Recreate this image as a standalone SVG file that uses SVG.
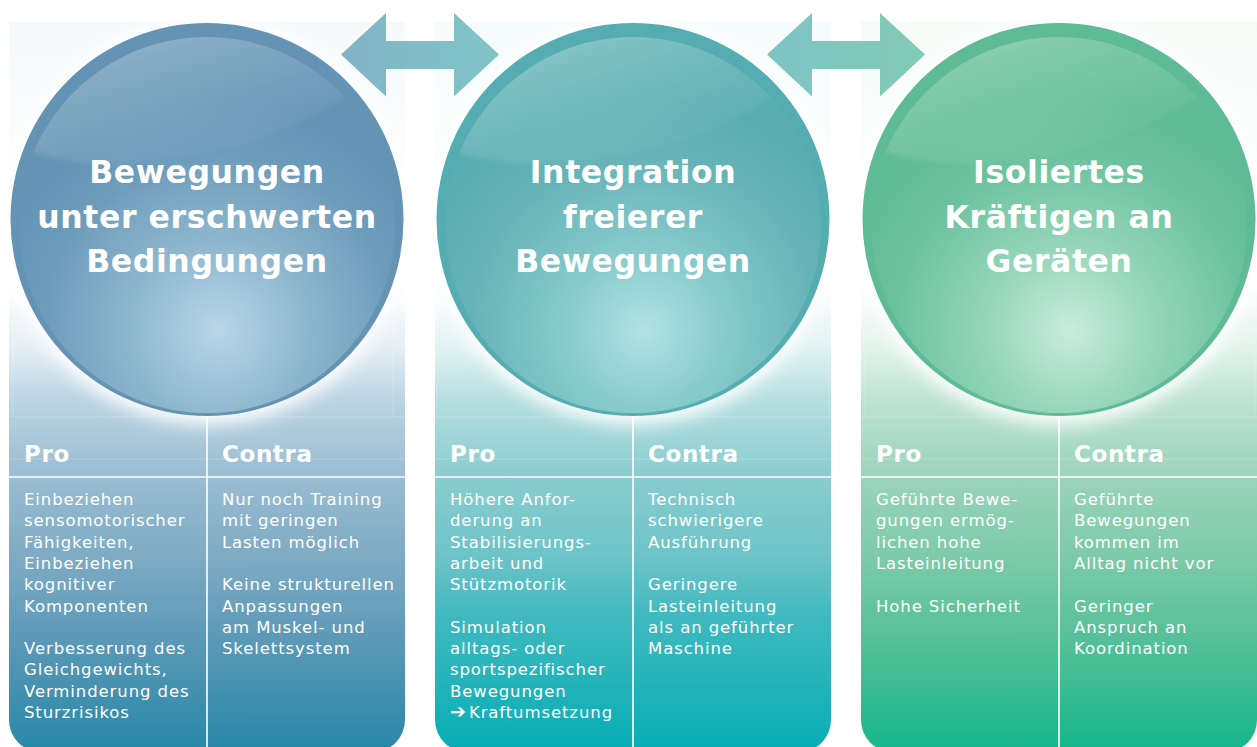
<svg xmlns="http://www.w3.org/2000/svg" width="1257" height="747" viewBox="0 0 1257 747">
  <defs>
    <style>
      .title { font-family: "DejaVu Sans", "Liberation Sans", sans-serif; font-weight: bold; font-size: 31.5px; letter-spacing: 0.6px; fill: #ffffff; text-anchor: middle; }
      .head { font-family: "DejaVu Sans", "Liberation Sans", sans-serif; font-weight: bold; font-size: 23px; letter-spacing: 0.6px; fill: #ffffff; }
      .body { font-family: "DejaVu Sans", "Liberation Sans", sans-serif; font-size: 16.5px; letter-spacing: 0.9px; fill: #ffffff; }
      .mark { font-size: 19px; font-weight: bold; letter-spacing: 0; }
      .rule { stroke: #ffffff; stroke-width: 1.6; fill: none; }
      .faint { stroke: #ffffff; stroke-opacity: 0.22; stroke-width: 1; fill: none; }
    </style>

    <!-- card backgrounds: white behind the sphere, deepening toward the bottom -->
    <linearGradient id="card-blue" gradientUnits="userSpaceOnUse" x1="0" y1="22" x2="0" y2="747">
      <stop offset="0" stop-color="#f6f9fb"/>
      <stop offset="0.36" stop-color="#ffffff"/>
      <stop offset="0.45" stop-color="#e4eef4"/>
      <stop offset="0.52" stop-color="#bcd4e3"/>
      <stop offset="0.62" stop-color="#9bbed2"/>
      <stop offset="0.74" stop-color="#7eaac3"/>
      <stop offset="0.85" stop-color="#5c99b7"/>
      <stop offset="1" stop-color="#2a88a8"/>
    </linearGradient>
    <linearGradient id="card-teal" gradientUnits="userSpaceOnUse" x1="0" y1="22" x2="0" y2="747">
      <stop offset="0" stop-color="#f6fbfb"/>
      <stop offset="0.36" stop-color="#ffffff"/>
      <stop offset="0.45" stop-color="#e1f2f2"/>
      <stop offset="0.52" stop-color="#b6dfe0"/>
      <stop offset="0.62" stop-color="#8ccdd0"/>
      <stop offset="0.74" stop-color="#6cc3c7"/>
      <stop offset="0.82" stop-color="#3fb9bf"/>
      <stop offset="1" stop-color="#08aeb5"/>
    </linearGradient>
    <linearGradient id="card-green" gradientUnits="userSpaceOnUse" x1="0" y1="22" x2="0" y2="747">
      <stop offset="0" stop-color="#f6fbf8"/>
      <stop offset="0.36" stop-color="#ffffff"/>
      <stop offset="0.45" stop-color="#e2f3eb"/>
      <stop offset="0.52" stop-color="#bee3d3"/>
      <stop offset="0.62" stop-color="#9dd4bd"/>
      <stop offset="0.74" stop-color="#7ccaa9"/>
      <stop offset="0.88" stop-color="#4bbd95"/>
      <stop offset="1" stop-color="#17b78b"/>
    </linearGradient>

    <!-- sphere bodies -->
    <radialGradient id="sphere-blue" gradientUnits="objectBoundingBox" cx="0.53" cy="0.78" r="0.62">
      <stop offset="0" stop-color="#b8d6e8"/>
      <stop offset="0.35" stop-color="#91b9d0"/>
      <stop offset="0.75" stop-color="#6d9cbb"/>
      <stop offset="1" stop-color="#6494b4"/>
    </radialGradient>
    <radialGradient id="sphere-teal" gradientUnits="objectBoundingBox" cx="0.53" cy="0.78" r="0.62">
      <stop offset="0" stop-color="#b2e2e2"/>
      <stop offset="0.35" stop-color="#86cacc"/>
      <stop offset="0.75" stop-color="#66b3b7"/>
      <stop offset="1" stop-color="#5aaeb2"/>
    </radialGradient>
    <radialGradient id="sphere-green" gradientUnits="objectBoundingBox" cx="0.53" cy="0.78" r="0.62">
      <stop offset="0" stop-color="#c9ecdc"/>
      <stop offset="0.35" stop-color="#96d6ba"/>
      <stop offset="0.75" stop-color="#6cc29e"/>
      <stop offset="1" stop-color="#60bc96"/>
    </radialGradient>

    <!-- glossy reflection across the top of each sphere -->
    <linearGradient id="gloss" x1="0.15" y1="0" x2="0.35" y2="1">
      <stop offset="0" stop-color="#ffffff" stop-opacity="0.55"/>
      <stop offset="0.45" stop-color="#ffffff" stop-opacity="0.22"/>
      <stop offset="1" stop-color="#ffffff" stop-opacity="0.04"/>
    </linearGradient>

    <linearGradient id="arrow-a" gradientUnits="userSpaceOnUse" x1="341" y1="0" x2="499" y2="0">
      <stop offset="0" stop-color="#82b3c6"/>
      <stop offset="1" stop-color="#7fc5c8"/>
    </linearGradient>
    <linearGradient id="arrow-b" gradientUnits="userSpaceOnUse" x1="767" y1="0" x2="925" y2="0">
      <stop offset="0" stop-color="#7ec4c5"/>
      <stop offset="1" stop-color="#82cab5"/>
    </linearGradient>

    <filter id="halo" x="-20%" y="-20%" width="140%" height="140%">
      <feGaussianBlur stdDeviation="9"/>
    </filter>
    <filter id="soft" x="-10%" y="-10%" width="120%" height="120%">
      <feGaussianBlur stdDeviation="2"/>
    </filter>

    <clipPath id="clip-1"><circle cx="207" cy="225" r="188"/></clipPath>
    <clipPath id="clip-2"><circle cx="633" cy="225" r="188"/></clipPath>
    <clipPath id="clip-3"><circle cx="1059" cy="225" r="188"/></clipPath>
  </defs>

  <rect width="1257" height="747" fill="#ffffff"/>

  <!-- column 1 -->
  <g id="node-bedingungen">
    <path d="M9 22 H405 V720 A32 32 0 0 1 373 752 H41 A32 32 0 0 1 9 720 Z" fill="url(#card-blue)"/>
    <g class="faint">
      <path d="M13 417 V225 A25 25 0 0 1 38 200 H368 A25 25 0 0 1 393 225 V417"/>
      <line x1="9" y1="417" x2="405" y2="417"/>
      <line x1="9" y1="459" x2="405" y2="459"/>
    </g>
    <circle cx="207" cy="222" r="202" fill="#ffffff" filter="url(#halo)"/>
    <circle cx="207" cy="219.5" r="196.5" fill="#6593b3"/>
    <circle cx="207" cy="225" r="188" fill="url(#sphere-blue)"/>
    <g clip-path="url(#clip-1)">
      <ellipse cx="192" cy="62" rx="212" ry="92" transform="rotate(-13 192 62)" fill="url(#gloss)" filter="url(#soft)"/>
    </g>
    <text class="title"><tspan x="207" y="183">Bewegungen</tspan><tspan x="207" y="228">unter erschwerten</tspan><tspan x="207" y="272">Bedingungen</tspan></text>
    <line class="rule" x1="207" y1="416" x2="207" y2="747"/>
    <line class="rule" x1="9" y1="477" x2="405" y2="477"/>
    <text class="head" x="24" y="462">Pro</text>
    <text class="head" x="222" y="462">Contra</text>
    <text class="body"><tspan x="24" y="505">Einbeziehen</tspan><tspan x="24" dy="21.3">sensomotorischer</tspan><tspan x="24" dy="21.3">Fähigkeiten,</tspan><tspan x="24" dy="21.3">Einbeziehen</tspan><tspan x="24" dy="21.3">kognitiver</tspan><tspan x="24" dy="21.3">Komponenten</tspan><tspan x="24" dy="42.6">Verbesserung des</tspan><tspan x="24" dy="21.3">Gleichgewichts,</tspan><tspan x="24" dy="21.3">Verminderung des</tspan><tspan x="24" dy="21.3">Sturzrisikos</tspan></text>
    <text class="body"><tspan x="222" y="505">Nur noch Training</tspan><tspan x="222" dy="21.3">mit geringen</tspan><tspan x="222" dy="21.3">Lasten möglich</tspan><tspan x="222" dy="42.6">Keine strukturellen</tspan><tspan x="222" dy="21.3">Anpassungen</tspan><tspan x="222" dy="21.3">am Muskel- und</tspan><tspan x="222" dy="21.3">Skelettsystem</tspan></text>
  </g>

  <!-- column 2 -->
  <g id="node-integration">
    <path d="M435 22 H831 V720 A32 32 0 0 1 799 752 H467 A32 32 0 0 1 435 720 Z" fill="url(#card-teal)"/>
    <g class="faint">
      <path d="M437 417 V212 A25 25 0 0 1 462 187 H804 A25 25 0 0 1 829 212 V417"/>
      <line x1="435" y1="417" x2="831" y2="417"/>
      <line x1="435" y1="459" x2="831" y2="459"/>
    </g>
    <circle cx="633" cy="222" r="202" fill="#ffffff" filter="url(#halo)"/>
    <circle cx="633" cy="219.5" r="196.5" fill="#55adb1"/>
    <circle cx="633" cy="225" r="188" fill="url(#sphere-teal)"/>
    <g clip-path="url(#clip-2)">
      <ellipse cx="618" cy="62" rx="212" ry="92" transform="rotate(-13 618 62)" fill="url(#gloss)" filter="url(#soft)"/>
    </g>
    <text class="title"><tspan x="633" y="183">Integration</tspan><tspan x="633" y="228">freierer</tspan><tspan x="633" y="272">Bewegungen</tspan></text>
    <line class="rule" x1="633" y1="416" x2="633" y2="747"/>
    <line class="rule" x1="435" y1="477" x2="831" y2="477"/>
    <text class="head" x="450" y="462">Pro</text>
    <text class="head" x="648" y="462">Contra</text>
    <text class="body"><tspan x="450" y="505">Höhere Anfor-</tspan><tspan x="450" dy="21.3">derung an</tspan><tspan x="450" dy="21.3">Stabilisierungs-</tspan><tspan x="450" dy="21.3">arbeit und</tspan><tspan x="450" dy="21.3">Stützmotorik</tspan><tspan x="450" dy="42.6">Simulation</tspan><tspan x="450" dy="21.3">alltags- oder</tspan><tspan x="450" dy="21.3">sportspezifischer</tspan><tspan x="450" dy="21.3">Bewegungen</tspan><tspan x="450" dy="21.3" class="mark">➔</tspan><tspan dx="3">Kraftumsetzung</tspan></text>
    <text class="body"><tspan x="648" y="505">Technisch</tspan><tspan x="648" dy="21.3">schwierigere</tspan><tspan x="648" dy="21.3">Ausführung</tspan><tspan x="648" dy="42.6">Geringere</tspan><tspan x="648" dy="21.3">Lasteinleitung</tspan><tspan x="648" dy="21.3">als an geführter</tspan><tspan x="648" dy="21.3">Maschine</tspan></text>
  </g>

  <!-- column 3 -->
  <g id="node-isoliert">
    <path d="M861 22 H1257 V720 A32 32 0 0 1 1225 752 H893 A32 32 0 0 1 861 720 Z" fill="url(#card-green)"/>
    <g class="faint">
      <path d="M865 417 V225 A25 25 0 0 1 890 200 H1230 A25 25 0 0 1 1255 225 V417"/>
      <line x1="861" y1="417" x2="1257" y2="417"/>
      <line x1="861" y1="459" x2="1257" y2="459"/>
    </g>
    <circle cx="1059" cy="222" r="202" fill="#ffffff" filter="url(#halo)"/>
    <circle cx="1059" cy="219.5" r="196.5" fill="#5ebb95"/>
    <circle cx="1059" cy="225" r="188" fill="url(#sphere-green)"/>
    <g clip-path="url(#clip-3)">
      <ellipse cx="1044" cy="62" rx="212" ry="92" transform="rotate(-13 1044 62)" fill="url(#gloss)" filter="url(#soft)"/>
    </g>
    <text class="title"><tspan x="1059" y="183">Isoliertes</tspan><tspan x="1059" y="228">Kräftigen an</tspan><tspan x="1059" y="272">Geräten</tspan></text>
    <line class="rule" x1="1059" y1="416" x2="1059" y2="747"/>
    <line class="rule" x1="861" y1="477" x2="1257" y2="477"/>
    <text class="head" x="876" y="462">Pro</text>
    <text class="head" x="1074" y="462">Contra</text>
    <text class="body"><tspan x="876" y="505">Geführte Bewe-</tspan><tspan x="876" dy="21.3">gungen ermög-</tspan><tspan x="876" dy="21.3">lichen hohe</tspan><tspan x="876" dy="21.3">Lasteinleitung</tspan><tspan x="876" dy="42.6">Hohe Sicherheit</tspan></text>
    <text class="body"><tspan x="1074" y="505">Geführte</tspan><tspan x="1074" dy="21.3">Bewegungen</tspan><tspan x="1074" dy="21.3">kommen im</tspan><tspan x="1074" dy="21.3">Alltag nicht vor</tspan><tspan x="1074" dy="42.6">Geringer</tspan><tspan x="1074" dy="21.3">Anspruch an</tspan><tspan x="1074" dy="21.3">Koordination</tspan></text>
  </g>

  <!-- double-headed arrows between the columns -->
  <g id="connectors">
    <polygon points="341,54.5 386,13 386,41 454,41 454,13 499,54.5 454,96.5 454,69 386,69 386,96.5" fill="url(#arrow-a)"/>
    <polygon points="767,54.5 812,13 812,41 880,41 880,13 925,54.5 880,96.5 880,69 812,69 812,96.5" fill="url(#arrow-b)"/>
  </g>
</svg>
